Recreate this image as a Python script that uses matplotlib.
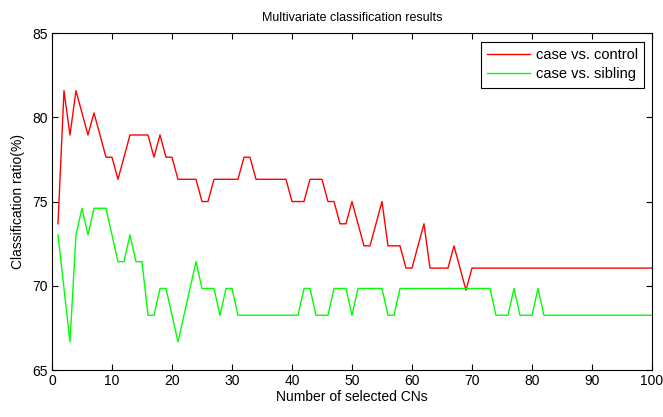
import numpy as np
import matplotlib.pyplot as plt

plt.rcParams['font.family'] = ['Liberation Sans', 'DejaVu Sans']

# number of selected CNs
n_cns = list(range(1, 101))

# classification ratio (%)
control = [73.68, 81.58, 78.95, 81.58, 80.26, 78.95, 80.26, 78.95, 77.63, 77.63,
           76.32, 77.63, 78.95, 78.95, 78.95, 78.95, 77.63, 78.95, 77.63, 77.63,
           76.32, 76.32, 76.32, 76.32, 75.00, 75.00, 76.32, 76.32, 76.32, 76.32,
           76.32, 77.63, 77.63, 76.32, 76.32, 76.32, 76.32, 76.32, 76.32, 75.00,
           75.00, 75.00, 76.32, 76.32, 76.32, 75.00, 75.00, 73.68, 73.68, 75.00,
           73.68, 72.37, 72.37, 73.68, 75.00, 72.37, 72.37, 72.37, 71.05, 71.05,
           72.37, 73.68, 71.05, 71.05, 71.05, 71.05, 72.37, 71.05, 69.74] + [71.05] * 31

sibling = [73.02, 69.84, 66.67, 73.02, 74.60, 73.02, 74.60, 74.60, 74.60, 73.02,
           71.43, 71.43, 73.02, 71.43, 71.43, 68.25, 68.25, 69.84, 69.84, 68.25,
           66.67, 68.25, 69.84, 71.43, 69.84, 69.84, 69.84, 68.25, 69.84, 69.84,
           68.25, 68.25, 68.25, 68.25, 68.25, 68.25, 68.25, 68.25, 68.25, 68.25,
           68.25, 69.84, 69.84, 68.25, 68.25, 68.25, 69.84, 69.84, 69.84, 68.25,
           69.84, 69.84, 69.84, 69.84, 69.84, 68.25, 68.25, 69.84, 69.84, 69.84,
           69.84, 69.84, 69.84, 69.84, 69.84, 69.84, 69.84, 69.84, 69.84, 69.84,
           69.84, 69.84, 69.84, 68.25, 68.25, 68.25, 69.84, 68.25, 68.25, 68.25,
           69.84] + [68.25] * 19

fig = plt.figure(figsize=(6.63, 4.17), dpi=100)
ax = fig.add_axes([0.0784, 0.1127, 0.905, 0.808])

ax.plot(n_cns, control, color='#ff0000', lw=1.0, label='case vs. control')
ax.plot(n_cns, sibling, color='#00ff00', lw=1.0, label='case vs. sibling')

ax.set_xlim(0, 100)
ax.set_ylim(65, 85)
ax.set_xticks(range(0, 101, 10))
ax.set_yticks(range(65, 86, 5))
ax.tick_params(direction='in', length=4, width=0.8, labelsize=10,
               top=True, right=True, pad=3)
for sp in ax.spines.values():
    sp.set_linewidth(0.8)

ax.set_title('Multivariate classification results', fontsize=9, pad=9)
ax.set_xlabel('Number of selected CNs', fontsize=10, labelpad=1)
ax.set_ylabel('Classification ratio(%)', fontsize=10, labelpad=5)

leg = ax.legend(loc='upper right', bbox_to_anchor=(0.987, 0.974), borderaxespad=0,
                fontsize=10.5, fancybox=False, framealpha=1, edgecolor='black',
                handlelength=2.9, handletextpad=0.4, borderpad=0.45,
                labelspacing=0.35)
leg.get_frame().set_linewidth(0.8)

fig.savefig('out.png', dpi=100)
